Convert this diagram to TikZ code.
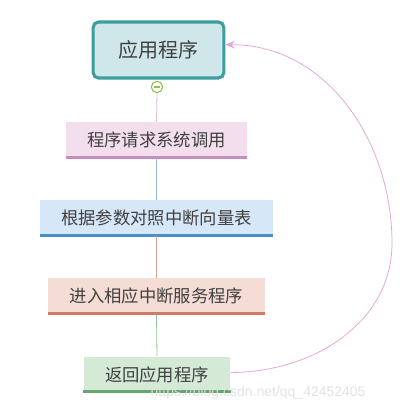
\documentclass[tikz,border=0pt]{standalone}
\usepackage{fontspec}
\setmainfont{Noto Sans CJK SC}
\newfontfamily\wmfont{Liberation Sans}
\usetikzlibrary{arrows.meta, positioning}
\definecolor{tealb}{HTML}{3A9E9A}
\definecolor{tealf}{HTML}{CFE6EA}
\definecolor{pinkf}{HTML}{F3DEEE}
\definecolor{pinkl}{HTML}{C68DC0}
\definecolor{bluef}{HTML}{D6E7F7}
\definecolor{bluel}{HTML}{4A90C8}
\definecolor{redf}{HTML}{F5DCD4}
\definecolor{redl}{HTML}{D27A68}
\definecolor{greenf}{HTML}{D4EAD7}
\definecolor{greenl}{HTML}{62A86C}
\definecolor{foldc}{HTML}{8CBF4A}
\definecolor{txt}{HTML}{404040}
\definecolor{loopc}{HTML}{E2A9D9}

\begin{document}
\begin{tikzpicture}[x=0.75pt, y=-0.75pt,
        stepbox/.style={minimum height=27pt, inner sep=0pt, font=\fontsize{13}{15}\selectfont, text=txt},
        uline/.style={line width=2.3pt},
        link/.style={line width=0.6pt}]
    \useasboundingbox (0,0) rectangle (400,408);
    \node[draw=tealb, fill=tealf, line width=2.3pt, rounded corners=4pt,
          minimum width=98pt, minimum height=42pt, font=\fontsize{15}{18}\selectfont, text=txt] (app) at (158.5,50) {应用程序};
    \node[circle, draw=foldc, fill=white, line width=0.8pt, minimum size=8.5pt, inner sep=0pt] (fold) at (157,87) {};
    \draw[foldc, line width=0.8pt] ([xshift=-2.4pt]fold.center) -- ([xshift=2.4pt]fold.center);
    \node[stepbox, fill=pinkf, minimum width=136pt] (req) at (156.5,140) {程序请求系统调用};
    \node[stepbox, fill=bluef, minimum width=175pt] (lookup) at (156.5,218) {根据参数对照中断向量表};
    \node[stepbox, fill=redf, minimum width=163pt] (serv) at (156.5,296) {进入相应中断服务程序};
    \node[stepbox, fill=greenf, minimum width=110pt] (ret) at (157,374.5) {返回应用程序};
    \draw[uline, pinkl] ([yshift=0.9pt]req.south west) -- ([yshift=0.9pt]req.south east);
    \draw[uline, bluel] ([yshift=0.9pt]lookup.south west) -- ([yshift=0.9pt]lookup.south east);
    \draw[uline, redl] ([yshift=0.9pt]serv.south west) -- ([yshift=0.9pt]serv.south east);
    \draw[uline, greenl] ([yshift=0.9pt]ret.south west) -- ([yshift=0.9pt]ret.south east);
    \draw[link, pinkl!60] (fold.south) -- (req.north);
    \draw[link, bluel!60] (req.south) -- (lookup.north);
    \draw[link, redl!70] (lookup.south) -- (serv.north);
    \draw[link, greenl!70] (serv.south) -- (ret.north);
    \coordinate (bend) at (392,243);
    \draw[link, loopc, -{Stealth[length=7pt, width=6pt]}] ([yshift=1.5pt]ret.east) to[out=0, in=-90] (bend)
        to[out=90, in=0] ([yshift=4pt]app.east);
    \node[anchor=west, text=gray!25, opacity=0.9, font=\wmfont\fontsize{10.5}{12}\selectfont] (mark) at (146,393) {https://blog.csdn.net/qq\_42452405};
\end{tikzpicture}
\end{document}
